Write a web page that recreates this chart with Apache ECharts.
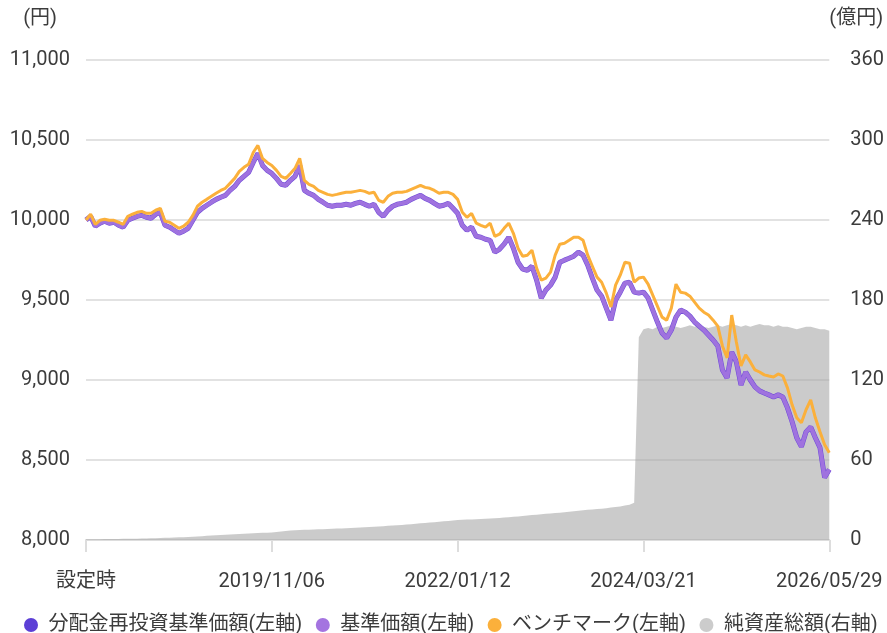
<!DOCTYPE html>
<html>
<head>
<meta charset="utf-8">
<script src="https://cdn.jsdelivr.net/npm/echarts@6/dist/echarts.min.js"></script>
<style>
  html, body { margin: 0; padding: 0; background: #fff; }
  #chart { width: 887px; height: 633px; }
</style>
</head>
<body>
<div id="chart"></div>
<script>
// x軸の目盛ラベル（40区間ごと）
const tickLabels = ['設定時', '2019/11/06', '2022/01/12', '2024/03/21', '2026/05/29'];

// 分配金再投資基準価額（円）
const navReinvest = [
  10000, 10023, 9961, 9980, 9992, 9980, 9986, 9967, 9955, 9998,
  10011, 10023, 10029, 10017, 10011, 10036, 10048, 9967, 9955, 9936,
  9917, 9930, 9948, 9998, 10048, 10073, 10092, 10111, 10129, 10142,
  10154, 10185, 10210, 10248, 10273, 10298, 10360, 10416, 10341, 10310,
  10291, 10260, 10223, 10217, 10248, 10273, 10341, 10185, 10167, 10154,
  10129, 10111, 10092, 10086, 10092, 10092, 10098, 10092, 10104, 10111,
  10098, 10086, 10098, 10048, 10023, 10061, 10086, 10098, 10104, 10111,
  10129, 10142, 10154, 10135, 10123, 10104, 10086, 10092, 10104, 10073,
  10042, 9967, 9936, 9955, 9898, 9892, 9880, 9873, 9799, 9817,
  9849, 9892, 9824, 9736, 9693, 9686, 9711, 9624, 9512, 9562,
  9593, 9643, 9736, 9749, 9761, 9774, 9799, 9780, 9718, 9637,
  9562, 9524, 9449, 9374, 9499, 9549, 9605, 9611, 9549, 9543,
  9549, 9512, 9437, 9362, 9294, 9262, 9312, 9393, 9437, 9424,
  9399, 9362, 9337, 9312, 9281, 9250, 9212, 9063, 9013, 9175,
  9113, 8969, 9050, 9000, 8957, 8932, 8919, 8907, 8894, 8907,
  8894, 8826, 8739, 8639, 8583, 8676, 8707, 8639, 8577, 8390,
  8440
];

// 基準価額（円）※分配実績なしのため同値
const nav = navReinvest.slice();

// ベンチマーク
const benchmark = [
  10000, 10036, 9973, 9998, 10005, 9998, 9998, 9986, 9973, 10023,
  10036, 10048, 10054, 10042, 10042, 10061, 10073, 9992, 9986, 9967,
  9948, 9961, 9986, 10029, 10086, 10111, 10129, 10148, 10167, 10185,
  10198, 10229, 10260, 10304, 10329, 10348, 10422, 10466, 10385, 10360,
  10341, 10310, 10273, 10260, 10291, 10323, 10385, 10248, 10223, 10210,
  10185, 10173, 10160, 10154, 10160, 10167, 10173, 10173, 10179, 10185,
  10179, 10167, 10173, 10123, 10111, 10148, 10167, 10173, 10173, 10179,
  10192, 10204, 10217, 10204, 10198, 10185, 10167, 10173, 10173, 10160,
  10129, 10048, 10017, 10042, 9980, 9967, 9955, 9980, 9898, 9911,
  9948, 9980, 9917, 9824, 9774, 9780, 9811, 9699, 9624, 9637,
  9674, 9780, 9849, 9855, 9873, 9892, 9892, 9873, 9780, 9711,
  9643, 9611, 9543, 9456, 9593, 9655, 9736, 9730, 9611, 9637,
  9643, 9599, 9530, 9462, 9393, 9374, 9449, 9599, 9549, 9543,
  9524, 9487, 9449, 9424, 9406, 9374, 9337, 9213, 9138, 9406,
  9238, 9088, 9157, 9113, 9063, 9050, 9032, 9025, 9019, 9038,
  9025, 8951, 8845, 8764, 8733, 8814, 8876, 8764, 8676, 8596,
  8545
];

// 純資産総額（億円）
const netAssets = [
  0.5, 0.5, 0.6, 0.6, 0.7, 0.7, 0.8, 0.8, 0.9, 0.9,
  1.0, 1.0, 1.1, 1.2, 1.3, 1.4, 1.5, 1.6, 1.7, 1.8,
  2.0, 2.1, 2.3, 2.5, 2.7, 2.9, 3.1, 3.3, 3.5, 3.7,
  3.9, 4.1, 4.3, 4.5, 4.7, 4.9, 5.1, 5.3, 5.4, 5.5,
  5.7, 6.0, 6.4, 6.8, 7.1, 7.3, 7.5, 7.6, 7.7, 7.8,
  8.0, 8.1, 8.3, 8.4, 8.6, 8.7, 8.9, 9.0, 9.2, 9.4,
  9.6, 9.8, 10.0, 10.2, 10.4, 10.6, 10.8, 11.0, 11.3, 11.6,
  11.9, 12.2, 12.5, 12.8, 13.1, 13.4, 13.7, 14.0, 14.3, 14.6,
  15.0, 15.1, 15.3, 15.4, 15.6, 15.8, 16.0, 16.2, 16.4, 16.5,
  16.8, 17.1, 17.4, 17.7, 18.0, 18.4, 18.7, 19.0, 19.3, 19.6,
  19.9, 20.2, 20.5, 20.8, 21.2, 21.6, 22.0, 22.3, 22.6, 22.9,
  23.2, 23.5, 23.9, 24.3, 24.7, 25.2, 25.8, 26.5, 28.0, 152,
  158, 159, 158, 160, 159, 160, 161, 160, 159, 160,
  161, 160, 161, 160, 159, 160, 161, 160, 161, 162,
  161, 160, 161, 160, 161, 162, 161, 161, 160, 161,
  160, 160, 159, 158, 159, 160, 160, 159, 158, 158,
  157
];

// カテゴリ（目盛位置だけラベル名、他は連番）
const categories = navReinvest.map((v, i) => (i % 40 === 0 ? tickLabels[i / 40] : String(i)));

const FONT = 'Roboto, "Noto Sans CJK JP", sans-serif';
const TXT = '#3c3c3c';

var myChart = echarts.init(document.getElementById('chart'), null, { renderer: 'canvas' });
let option = {
  animation: false,
  textStyle: { fontFamily: FONT },
  color: ['#5c3fd6', '#a474e0', '#fbb03b', '#cccccc'],
  legend: {
    left: 19,
    top: 610,
    itemWidth: 25,
    itemHeight: 14,
    itemGap: 13.5,
    icon: 'circle',
    textStyle: { fontSize: 20, color: TXT, fontFamily: FONT },
    data: ['分配金再投資基準価額(左軸)', '基準価額(左軸)', 'ベンチマーク(左軸)', '純資産総額(右軸)']
  },
  grid: { left: 86, right: 56, top: 60, bottom: 93, containLabel: false },
  xAxis: {
    type: 'category',
    boundaryGap: false,
    data: categories,
    axisLine: { lineStyle: { color: '#dddddd', width: 2 } },
    axisTick: { interval: 39, length: 12, lineStyle: { color: '#dddddd', width: 2 } },
    axisLabel: { interval: 39, margin: 32, fontSize: 20, color: TXT, fontFamily: FONT, showMaxLabel: true },
    splitLine: { show: false }
  },
  yAxis: [
    {
      type: 'value',
      min: 8000,
      max: 11000,
      interval: 500,
      name: '(円)',
      nameLocation: 'end',
      nameGap: 31,
      nameTextStyle: { fontSize: 20, color: TXT, align: 'right', padding: [0, 29, 0, 0] },
      axisLine: { show: false },
      axisTick: { show: false },
      axisLabel: { margin: 16, fontSize: 20, color: TXT, fontFamily: FONT,
        formatter: v => v.toLocaleString('en-US') },
      splitLine: { lineStyle: { color: '#e2e2e2', width: 2 } }
    },
    {
      type: 'value',
      min: 0,
      max: 360,
      interval: 60,
      name: '(億円)',
      nameLocation: 'end',
      nameGap: 31,
      nameTextStyle: { fontSize: 20, color: TXT, align: 'left' },
      axisLine: { show: false },
      axisTick: { show: false },
      axisLabel: { margin: 21, fontSize: 20, color: TXT, fontFamily: FONT },
      splitLine: { show: false }
    }
  ],
  series: [
    {
      name: '純資産総額(右軸)',
      type: 'line',
      yAxisIndex: 1,
      symbol: 'none',
      lineStyle: { width: 0 },
      itemStyle: { color: '#cccccc' },
      areaStyle: { color: 'rgba(168,168,168,0.6)', opacity: 1 },
      data: netAssets
    },
    {
      name: '分配金再投資基準価額(左軸)',
      type: 'line',
      symbol: 'none',
      lineStyle: { color: '#6f4bd8', width: 5 },
      itemStyle: { color: '#5c3fd6' },
      data: navReinvest
    },
    {
      name: '基準価額(左軸)',
      type: 'line',
      symbol: 'none',
      lineStyle: { color: '#9f72df', width: 4 },
      itemStyle: { color: '#a474e0' },
      data: nav
    },
    {
      name: 'ベンチマーク(左軸)',
      type: 'line',
      symbol: 'none',
      lineStyle: { color: '#fbb03b', width: 3 },
      itemStyle: { color: '#fbb03b' },
      data: benchmark
    }
  ]
};
myChart.setOption(option);
</script>
</body>
</html>
